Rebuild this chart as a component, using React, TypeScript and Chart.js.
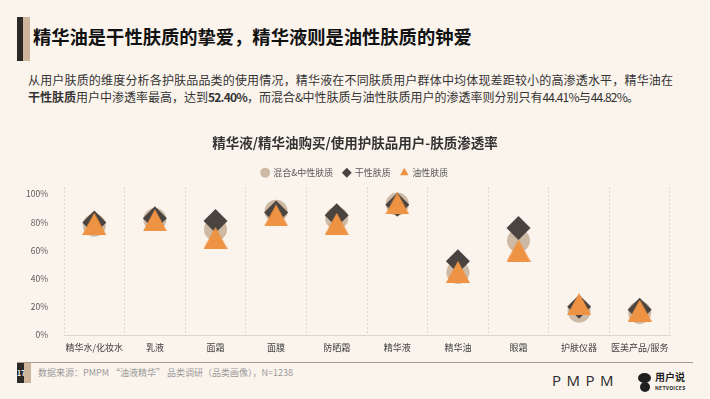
import React, { useEffect, useRef } from "react";
import { Chart, registerables } from "chart.js";

Chart.register(...registerables);

const FONT = '"Noto Sans CJK SC", "Noto Sans", sans-serif';

const categories = ["精华水/化妆水", "乳液", "面霜", "面膜", "防晒霜", "精华液", "精华油", "眼霜", "护肤仪器", "医美产品/服务"];
const seriesNames = ["混合&中性肤质", "干性肤质", "油性肤质"];
const mixedSkin = [78, 82, 75, 88, 83, 93, 44.41, 67, 17, 16];
const drySkin = [80, 83, 81, 87, 85, 92.5, 52.4, 76, 20, 18];
const oilySkin = [79, 81.5, 69, 85, 79, 93.5, 44.82, 60, 22, 17.4];
const yTicks = [0, 20, 40, 60, 80, 100];

const TAN = "#CDB9A4";
const DARK = "#4A4441";
const ORANGE = "#EE9343";
const BG = "#FBF4ED";

const num: React.CSSProperties = { letterSpacing: -0.8 };

export default function App() {
  const ref = useRef<HTMLCanvasElement>(null);

  useEffect(() => {
    document.body.style.margin = "0";
    const tri = document.createElement("canvas");
    tri.width = 24;
    tri.height = 22;
    const c = tri.getContext("2d")!;
    c.fillStyle = ORANGE;
    c.beginPath();
    c.moveTo(12, 0);
    c.lineTo(24, 22);
    c.lineTo(0, 22);
    c.closePath();
    c.fill();

    const chart = new Chart(ref.current!, {
      type: "line",
      data: {
        labels: categories,
        datasets: [
          {
            label: seriesNames[0],
            data: mixedSkin,
            showLine: false,
            pointStyle: "circle",
            pointRadius: 11.5,
            pointHoverRadius: 11.5,
            backgroundColor: TAN,
            borderColor: TAN,
            pointBorderWidth: 0,
            borderWidth: 0,
            order: 3,
          },
          {
            label: seriesNames[1],
            data: drySkin,
            showLine: false,
            pointStyle: "rectRot",
            pointRadius: 12,
            pointHoverRadius: 12,
            backgroundColor: DARK,
            borderColor: DARK,
            pointBorderWidth: 0,
            borderWidth: 0,
            order: 2,
          },
          {
            label: seriesNames[2],
            data: oilySkin,
            showLine: false,
            pointStyle: tri as any,
            pointRadius: 12,
            pointHoverRadius: 12,
            backgroundColor: ORANGE,
            borderColor: ORANGE,
            pointBorderWidth: 0,
            borderWidth: 0,
            order: 1,
          },
        ],
      },
      options: {
        animation: false,
        responsive: false,
        layout: { padding: { left: 8, right: 8, top: 0, bottom: 0 } },
        plugins: {
          title: {
            display: true,
            text: "精华液/精华油购买/使用护肤品用户-肤质渗透率",
            color: "#333333",
            font: { size: 13.5, weight: "bold", family: FONT },
            padding: { top: 5, bottom: 7 },
          },
          legend: {
            display: true,
            labels: {
              usePointStyle: true,
              boxWidth: 7,
              boxHeight: 7,
              padding: 10,
              color: "#595959",
              font: { size: 9, family: FONT },
              generateLabels: (ch: any) => {
                const items = (Chart.defaults.plugins.legend.labels as any).generateLabels(ch);
                items.sort((a: any, b: any) => a.datasetIndex - b.datasetIndex);
                items.forEach((it: any) => {
                  if (it.datasetIndex === 2) it.pointStyle = "triangle";
                  it.lineWidth = 0;
                });
                return items;
              },
            },
          },
          tooltip: { enabled: false },
        },
        scales: {
          x: {
            type: "category",
            offset: true,
            grid: { offset: true, color: "#dcd6d0", drawTicks: false },
            border: { display: true, color: "#d9d4cf", dash: [2, 2] },
            ticks: {
              color: "#404040",
              font: { size: 9, family: FONT },
              padding: 7,
              maxRotation: 0,
              autoSkip: false,
            },
            afterFit: (axis: any) => {
              axis.height = 25;
            },
          },
          y: {
            position: "left",
            min: 0,
            max: 105,
            afterBuildTicks: (axis: any) => {
              axis.ticks = yTicks.map((v) => ({ value: v }));
            },
            grid: { display: false },
            border: { display: false },
            ticks: {
              callback: (v: any) => v + "%",
              color: "#595959",
              font: { size: 8.5, family: FONT },
              padding: 8,
            },
            afterFit: (axis: any) => {
              axis.width = 56;
            },
          },
          yRight: {
            position: "right",
            min: 0,
            max: 105,
            grid: { display: false },
            border: { display: false },
            ticks: { display: false },
            afterFit: (axis: any) => {
              axis.width = 32;
            },
          },
        },
      },
    });
    return () => chart.destroy();
  }, []);

  return (
    <div style={{ position: "fixed", left: 0, top: 0, width: 710, height: 399, background: BG, overflow: "hidden", fontFamily: FONT }}>
      <div style={{ position: "absolute", left: 17, top: 17, width: 6, height: 44, background: "#2B2826" }} />
      <div style={{ position: "absolute", left: 23, top: 17, width: 7, height: 44, background: "#CDB59B" }} />
      <div style={{ position: "absolute", left: 33, top: 24, fontSize: 18.3, fontWeight: 700, color: "#111", lineHeight: "24px", whiteSpace: "nowrap" }}>
        精华油是干性肤质的挚爱，精华液则是油性肤质的钟爱
      </div>
      <div style={{ position: "absolute", left: 28, top: 71, width: 645, fontSize: 12, color: "#333", lineHeight: "17px" }}>
        <div style={{ whiteSpace: "nowrap", textAlign: "justify", textAlignLast: "justify", textJustify: "inter-character" } as React.CSSProperties}>
          从用户肤质的维度分析各护肤品品类的使用情况，精华液在不同肤质用户群体中均体现差距较小的高渗透水平，精华油在
        </div>
        <div style={{ whiteSpace: "nowrap" }}>
          <b>干性肤质</b>用户中渗透率最高，达到<b style={num}>52.40%</b>，而混合<span style={num}>&amp;</span>中性肤质与油性肤质用户的渗透率则分别只有<span style={num}>44.41%</span>与<span style={num}>44.82%</span>。
        </div>
      </div>
      <canvas ref={ref} width={710} height={230} style={{ position: "absolute", left: 0, top: 130, width: 710, height: 230 }} />
      <div style={{ position: "absolute", left: 17, top: 362, width: 676, height: 1, background: "#A99D92" }} />
      <div style={{ position: "absolute", left: 17, top: 363, width: 7, height: 20, background: "#2B2826", color: "#fff", fontSize: 7, lineHeight: "20px", textAlign: "center", fontWeight: 700 }}>17</div>
      <div style={{ position: "absolute", left: 24, top: 363, width: 7, height: 20, background: "#CDB59B" }} />
      <div style={{ position: "absolute", left: 38, top: 366, fontSize: 9, color: "#9A9A9A", lineHeight: "13px", whiteSpace: "nowrap" }}>
        数据来源：PMPM “油液精华” 品类调研（品类画像），N=1238
      </div>
      <div style={{ position: "absolute", left: 552, top: 370, fontSize: 15, fontFamily: '"Open Sans", sans-serif', fontWeight: 400, letterSpacing: 5.5, color: "#2a2a2a", lineHeight: "20px" }}>PMPM</div>
      <div style={{ position: "absolute", left: 638, top: 373, width: 13, height: 10, borderRadius: "50%", background: "#1f1f1f" }} />
      <div style={{ position: "absolute", left: 640, top: 382, width: 10, height: 10, borderRadius: "50%", background: "#1f1f1f" }} />
      <div style={{ position: "absolute", left: 655, top: 370, fontSize: 10, fontWeight: 700, color: "#1f1f1f", lineHeight: "13px", whiteSpace: "nowrap" }}>用户说</div>
      <div style={{ position: "absolute", left: 655, top: 385, fontSize: 5, fontWeight: 700, color: "#1f1f1f", lineHeight: "6px", letterSpacing: 0.3, whiteSpace: "nowrap" }}>NETVOICES</div>
    </div>
  );
}
